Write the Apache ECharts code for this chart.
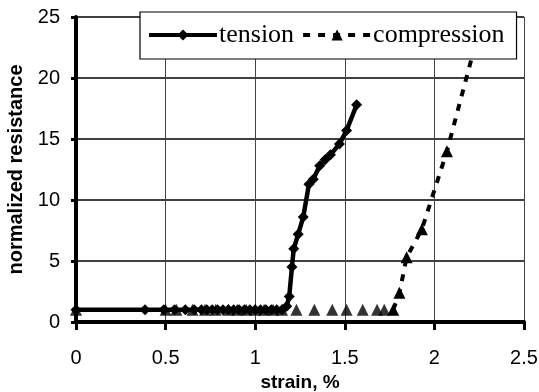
<!DOCTYPE html>
<html>
<head>
<meta charset="utf-8">
<script src="https://cdn.jsdelivr.net/npm/echarts@6/dist/echarts.min.js"></script>
<style>
html, body { margin: 0; padding: 0; background: #fff; }
#chart { width: 539px; height: 392px; }
</style>
</head>
<body>
<div id="chart"></div>
<script>
// tension curve (strain %, normalized resistance)
var tensionX = [0, 0.385, 0.49, 0.55, 0.61, 0.66, 0.7, 0.73, 0.76, 0.79, 0.82, 0.85, 0.88, 0.91, 0.94, 0.97, 1.0, 1.03, 1.06, 1.09, 1.12, 1.15, 1.176, 1.19, 1.205, 1.215, 1.24, 1.268, 1.30, 1.324, 1.36, 1.39, 1.42, 1.47, 1.51, 1.566];
var tensionY = [1, 1, 1, 1, 1, 1, 1, 1, 1, 1, 1, 1, 1, 1, 1, 1, 1, 1, 1, 1, 1, 1, 1.3, 2.1, 4.5, 6.0, 7.2, 8.6, 11.3, 11.7, 12.8, 13.3, 13.7, 14.6, 15.7, 17.8];

// compression: flat part (markers only) and rising part
var compFlatX = [0, 0.5, 0.56, 0.65, 0.72, 0.78, 0.85, 0.9, 0.95, 1.0, 1.05, 1.1, 1.15, 1.23, 1.33, 1.43, 1.51, 1.6, 1.68, 1.72];
var compFlatY = [1, 1, 1, 1, 1, 1, 1, 1, 1, 1, 1, 1, 1, 1, 1, 1, 1, 1, 1, 1];
var compRiseX = [1.77, 1.805, 1.845, 1.93, 2.07, 2.26];
var compRiseY = [1.0, 2.4, 5.3, 7.6, 14.0, 24.5];
var riseMarker = [true, true, true, true, true, false];

var xTicks = [0, 0.5, 1, 1.5, 2, 2.5];
var yTicks = [0, 5, 10, 15, 20, 25];

function pairs(xs, ys) {
    var d = [];
    for (var i = 0; i < xs.length; i++) d.push([xs[i], ys[i]]);
    return d;
}

var riseData = [];
for (var i = 0; i < compRiseX.length; i++) {
    var item = { value: [compRiseX[i], compRiseY[i]] };
    if (!riseMarker[i]) item.symbol = 'none';
    riseData.push(item);
}

var myChart = echarts.init(document.getElementById('chart'), null, { renderer: 'canvas' });
var option = {
    animation: false,
    backgroundColor: '#fff',
    grid: { left: 76, right: 15, top: 17, bottom: 70, containLabel: false, outerBoundsMode: 'none' },
    legend: {
        data: ['tension', 'compression'],
        left: 140,
        top: 12,
        padding: [10, 12, 11, 7],
        itemWidth: 68,
        itemHeight: 14,
        itemGap: 7,
        borderColor: '#000',
        borderWidth: 1.2,
        backgroundColor: '#fff',
        lineStyle: { width: 4 },
        textStyle: { fontFamily: 'Liberation Serif', fontSize: 26, color: '#000', padding: [0, 0, 0, -3] }
    },
    xAxis: {
        type: 'value',
        min: 0, max: 2.5, interval: 0.5,
        name: 'strain, %',
        nameLocation: 'middle',
        nameGap: 49,
        nameTextStyle: { fontFamily: 'Liberation Sans', fontWeight: 'bold', fontSize: 19, color: '#000' },
        axisLine: { lineStyle: { color: '#000', width: 4 } },
        axisTick: { show: true, length: 8, lineStyle: { color: '#000', width: 3 } },
        axisLabel: { margin: 26, fontFamily: 'Liberation Sans', fontSize: 20, color: '#000',
            formatter: function (v) { return xTicks.indexOf(v) >= 0 ? String(v) : ''; } },
        splitLine: { show: true, lineStyle: { color: '#444', width: 1 } }
    },
    yAxis: {
        type: 'value',
        min: 0, max: 25, interval: 5,
        name: 'normalized resistance',
        nameLocation: 'middle',
        nameGap: 50,
        nameTextStyle: { fontFamily: 'Liberation Sans', fontWeight: 'bold', fontSize: 20, color: '#000' },
        axisLine: { show: true, lineStyle: { color: '#000', width: 4 } },
        axisTick: { show: true, length: 5, lineStyle: { color: '#000', width: 3 } },
        axisLabel: { margin: 16, fontFamily: 'Liberation Sans', fontSize: 20, color: '#000',
            formatter: function (v) { return yTicks.indexOf(v) >= 0 ? String(v) : ''; } },
        splitLine: { show: true, lineStyle: { color: '#000', width: 1.5 } }
    },
    series: [{
        name: 'tension',
        type: 'line',
        data: pairs(tensionX, tensionY),
        symbol: 'diamond',
        symbolSize: 11,
        showAllSymbol: true,
        color: '#000',
        lineStyle: { color: '#000', width: 4.5 },
        itemStyle: { color: '#000' },
        z: 3
    }, {
        name: 'compression',
        type: 'line',
        data: riseData,
        symbol: 'triangle',
        symbolSize: 12,
        showAllSymbol: true,
        color: '#000',
        lineStyle: { color: '#000', width: 4, type: [7, 8] },
        itemStyle: { color: '#000' },
        z: 2
    }, {
        name: 'compression',
        type: 'scatter',
        data: pairs(compFlatX, compFlatY),
        symbol: 'triangle',
        symbolSize: 12,
        itemStyle: { color: '#000' },
        z: 2
    }]
};
myChart.setOption(option);
</script>
</body>
</html>
